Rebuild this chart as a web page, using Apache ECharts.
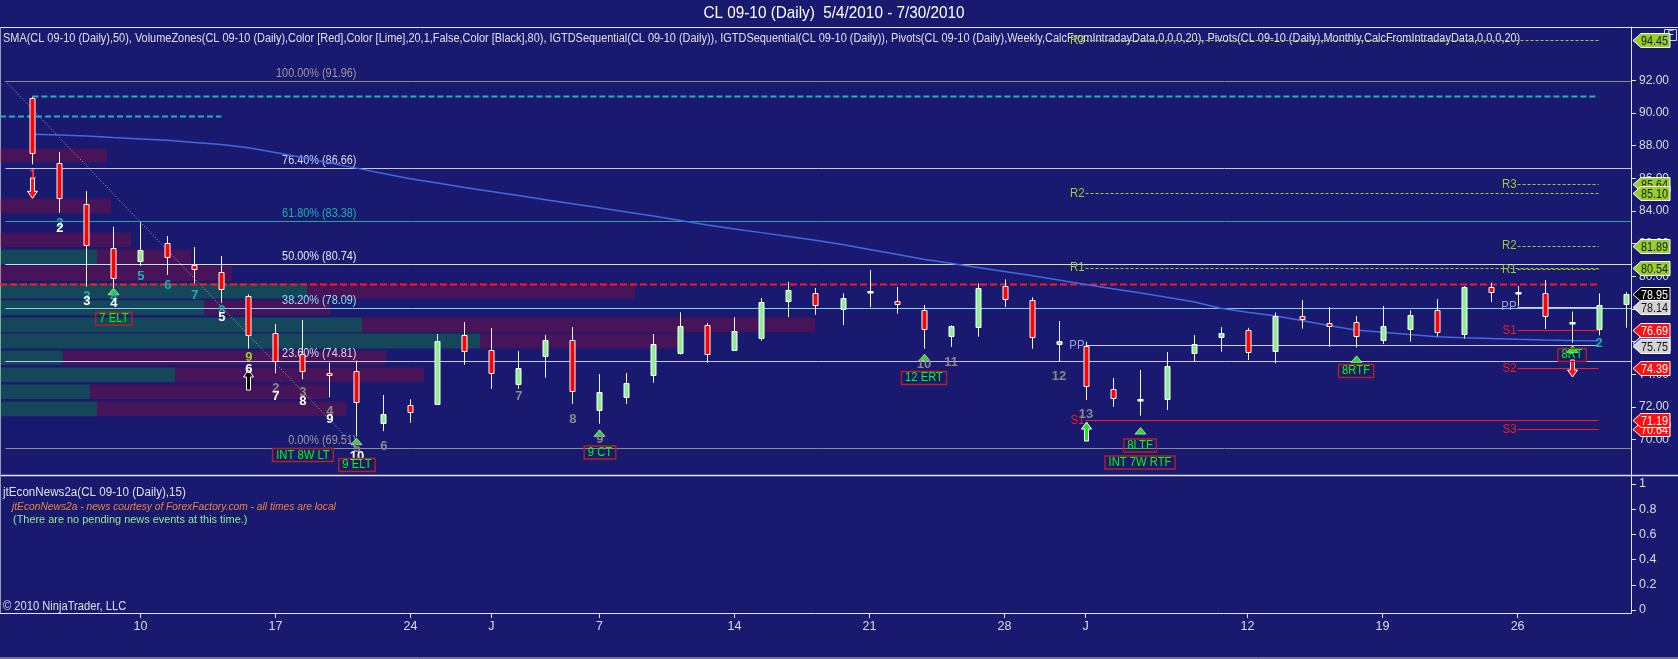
<!DOCTYPE html>
<html>
<head>
<meta charset="utf-8">
<title>CL 09-10 (Daily)</title>
<script src="https://cdn.jsdelivr.net/npm/echarts@6/dist/echarts.min.js"></script>
<style>
html,body{margin:0;padding:0;background:#191970;}
#main{width:1678px;height:659px;}
</style>
</head>
<body>
<div id="main"></div>
<script>
// ---- data ----
var dates = ['5/4','5/5','5/6','5/7','5/10','5/11','5/12','5/13','5/14','5/17','5/18','5/19','5/20','5/21','5/24','5/25','5/26',
  '6/1','6/2','6/3','6/4','6/7','6/8','6/9','6/10','6/11','6/14','6/15','6/16','6/17','6/18','6/21','6/22','6/23','6/24','6/25',
  '6/28','6/29','6/30','7/1','7/2','7/6','7/7','7/8','7/9','7/12','7/13','7/14','7/15','7/16','7/19','7/20','7/21','7/22','7/23',
  '7/26','7/27','7/28','7/29','7/30'];
var openP  = [90.91,86.93,84.43,81.72,80.92,82.05,80.70,80.27,78.80,76.55,75.25,74.07,74.23,71.00,72.11,72.20,76.39,75.47,73.43,75.14,
  76.09,71.84,72.63,73.98,75.31,77.00,75.52,76.25,78.51,78.98,78.02,79.04,78.47,77.92,76.37,76.92,79.39,78.54,75.84,75.76,
  73.09,72.45,72.47,75.29,76.27,76.69,75.45,77.56,77.17,77.23,76.11,76.78,77.92,76.45,79.35,79.00,78.96,77.14,76.77,78.29];
var highP  = [91.00,87.62,85.23,83.04,83.31,82.47,81.80,81.25,78.90,77.08,77.33,74.72,74.84,72.74,72.47,76.47,77.20,76.84,75.43,76.41,
  76.90,74.02,74.08,76.47,77.80,77.15,77.51,78.68,79.66,79.29,78.96,80.39,79.35,78.25,77.00,79.58,79.82,78.72,77.27,76.00,
  73.78,74.27,75.37,76.41,76.90,76.85,77.79,78.55,78.11,77.58,78.19,77.93,78.61,79.40,79.61,79.41,79.78,77.85,78.95,79.04];
var lowP   = [86.86,83.90,79.37,79.29,80.64,80.09,79.58,78.39,75.57,74.07,73.70,72.60,70.20,70.53,71.04,72.15,74.59,73.12,73.12,73.80,
  72.20,70.98,72.20,73.49,75.22,74.72,75.50,76.06,77.51,77.65,77.02,78.11,77.72,75.57,75.69,76.31,78.13,75.57,74.78,72.43,
  72.02,71.47,71.82,74.78,75.39,74.88,74.68,76.80,75.69,75.65,75.86,76.01,76.31,76.19,78.43,78.17,76.78,75.95,76.39,76.86];
var closeP = [87.54,84.78,81.90,79.88,81.60,81.17,80.43,79.21,76.39,74.84,74.19,73.94,72.31,71.55,71.68,76.03,75.45,74.07,74.37,76.09,
  73.00,72.90,73.45,75.84,76.94,75.27,76.64,78.43,79.15,78.27,78.66,79.04,78.29,76.76,76.94,79.27,78.63,76.31,76.03,73.31,
  72.54,72.45,74.51,75.84,76.53,75.35,77.56,77.42,76.97,76.37,76.95,77.63,76.61,79.37,79.02,79.00,77.55,77.14,78.27,78.95];
var sma50 = [88.70,88.65,88.60,88.50,88.42,88.33,88.20,88.07,87.88,87.58,87.28,86.95,86.63,86.30,85.98,85.72,85.45,85.20,84.95,84.70,
  84.45,84.20,83.95,83.70,83.42,83.15,82.90,82.68,82.45,82.22,81.95,81.65,81.35,81.05,80.80,80.55,80.30,80.05,79.78,79.50,
  79.25,79.00,78.72,78.45,78.05,77.80,77.59,77.30,77.00,76.72,76.58,76.44,76.31,76.25,76.20,76.15,76.11,76.08,76.06,null];

var tickIdx  = [4,9,14,17,21,26,31,36,39,45,50,55];
var tickText = ['10','17','24','J','7','14','21','28','J','12','19','26'];
var priceTicks = [70,72,74,76,78,80,82,84,86,88,90,92];
var newsTicks = [0,0.2,0.4,0.6,0.8,1];

// volume zones: price band and up / down volume (1 unit = one bar width)
var zoneLow  = [86.96,83.84,81.76,80.72,79.68,78.62,77.59,76.55,75.55,74.56,73.49,72.47,71.41];
var zoneHigh = [87.84,84.80,82.72,81.68,80.66,79.60,78.57,77.51,76.53,75.49,74.45,73.41,72.37];
var zoneUp   = [0,0,0,3.59,0,11.37,7.56,13.41,17.78,2.33,6.48,3.33,3.59];
var zoneDown = [3.96,4.11,4.85,3.48,8.59,12.15,4.67,16.78,7.33,11.96,9.22,8.81,9.22];

// fibonacci retracement
var fibPct   = ['100.00%','76.40%','61.80%','50.00%','38.20%','23.60%','0.00%'];
var fibPrice = [91.96,86.66,83.38,80.74,78.09,74.81,69.51];
var fibFrom  = [-1, 91.96];
var fibTo    = [12, 69.51];

// other horizontal levels: price, first bar, last bar
var levelPrice = [91.05, 89.81, 79.52];
var levelFrom  = [0, -1.2, -1.2];
var levelTo    = [58, 7, 58];

// pivots
var monthName  = ['R3','R2','R1','PP','S1'];
var monthPrice = [94.45,85.10,80.54,75.78,71.19];
var weekName   = ['R3','R2','R1','PP','S1','S2','S3'];
var weekPrice  = [85.64,81.89,80.45,78.14,76.69,74.39,70.64];
var monthStart = 39, weekStart = 55, pivotEnd = 58;

// TD sequential counts
var tdBar   = [0,1,1,2,2,3,3,4,5,6,7,7,8,8,9,9,10,10,11,11,12,12,13,18,20,21,33,34,38,39,58];
var tdPrice = [86.26,83.27,82.95,78.76,78.45,78.72,78.35,79.98,79.47,78.86,77.90,77.50,75.02,74.31,73.15,72.68,72.88,72.33,71.71,71.25,
  69.47,68.96,69.57,72.63,71.27,70.02,74.64,74.74,73.86,71.55,75.90];
var tdText  = ['1','2','2','3','3','4','4','5','6','7','8','5','9','6','2','7','3','8','4','9','5','10','6','7','8','9','10','11','12','13','2'];
var tdKind  = ['r','t','w','t','w','t','w','t','t','t','t','w','y','w','g','w','g','w','g','w','g','w','g','g','g','g','g','g','g','g','t'];

var boxBar   = [3,10,12,21,33,41,41,49,57];
var boxPrice = [77.41,69.06,68.45,69.22,73.78,69.64,68.60,74.21,75.19];
var boxText  = ['7 ELT','INT 8W LT','9 ELT','9 CT','12 ERT','8LTF','INT 7W RTF','8RTF','8RT'];

var triBar   = [3,12,21,33,41,49,57];
var triPrice = [79.06,69.88,70.39,75.02,70.53,74.92,75.53];

var arrBar  = [0,8,39,57];
var arrTop  = [86.01,74.27,71.08,74.88];
var arrBot  = [84.78,73.04,69.92,73.84];
var arrKind = ['downRed','upBlack','upGreen','downRed'];

// price tags on the right axis
var tagPrice = [94.45,85.64,85.10,81.89,80.54,78.95,78.14,75.93,76.69,75.75,74.39,70.64,71.19];
var tagKind  = ['yg','yg','yg','yg','yg','last','pp','sma','red','pp','red','red','red'];

// ---- drawing ----
var FONT = "'Liberation Sans',Arial,sans-serif";
var BOLD = "bold 13px 'Liberation Sans',Arial,sans-serif";
var xMin = -1.2, xMax = 59.2;

var tdColor = {r:'#ff3a3a', t:'#20b2aa', w:'#ffffff', g:'#8a8a8a', y:'#9acd32'};
var fibColor = ['#8c8c8c','#c8c8e6','#1fa5a5','#dcdcf0','#7fd4e6','#c8c8e6','#8c8c8c'];
var fibTextColor = ['#9a9a9a','#d8d8f0','#20b2aa','#e6e6f6','#8ee0ee','#d8d8f0','#9a9a9a'];
var levelStyle = [
  {stroke:'#1fb5b5', lineWidth:2, lineDash:[6,3]},
  {stroke:'#1fb5b5', lineWidth:2, lineDash:[6,3]},
  {stroke:'#ff1a1a', lineWidth:2, lineDash:[7,3]}
];
var tagStyle = {
  yg:{fill:'#9acd32', text:'#102000'}, last:{fill:'#000000', text:'#ffffff'}, pp:{fill:'#d3d3d3', text:'#101010'},
  red:{fill:'#ff1010', text:'#ffffff'}, sma:{fill:'#4169e1', text:'#ffffff'}
};
function pivotColor(name){ return name.charAt(0)==='R' ? '#9acd32' : (name==='PP' ? '#d0d0dc' : '#ff1a1a'); }
function pivotTextColor(name){ return name.charAt(0)==='R' ? '#9acd32' : (name==='PP' ? '#9aa4d0' : '#ff1a1a'); }

function px(v){ return Math.round(v) + 0.5; }

function layer(n, z, fn){
  var data = [];
  for (var k = 0; k < n; k++) data.push([k, 80]);
  return {type:'custom', xAxisIndex:0, yAxisIndex:0, data:data, z:z, silent:true, clip:false,
    renderItem:function(params, api){ return fn(params.dataIndex, api); }};
}

function hline(api, i0, i1, p, style){
  var a = api.coord([i0, p]), b = api.coord([i1, p]);
  var y = px(a[1]);
  return {type:'line', shape:{x1:a[0], y1:y, x2:b[0], y2:y}, style:style};
}

var zoneSeries = layer(zoneLow.length, 1, function(k, api){
  var yT = api.coord([0, zoneHigh[k]])[1] + 0.5, yB = api.coord([0, zoneLow[k]])[1] - 0.5;
  var x0 = api.coord([xMin, 80])[0];
  var x1 = api.coord([xMin + zoneUp[k], 80])[0];
  var x2 = api.coord([xMin + zoneUp[k] + zoneDown[k], 80])[0];
  return {type:'group', children:[
    {type:'rect', shape:{x:x0, y:yT, width:x1 - x0, height:yB - yT}, style:{fill:'rgba(0,255,0,0.2)'}},
    {type:'rect', shape:{x:x1, y:yT, width:x2 - x1, height:yB - yT}, style:{fill:'rgba(255,0,0,0.2)'}}
  ]};
});

var fibSeries = layer(fibPrice.length, 2, function(k, api){
  var lab = api.coord([12, fibPrice[k]]);
  return {type:'group', children:[
    hline(api, -1, xMax, fibPrice[k], {stroke:fibColor[k], lineWidth:1}),
    {type:'text', x:lab[0], y:lab[1] - 1, scaleX:0.87, style:{text:fibPct[k] + ' (' + fibPrice[k].toFixed(2) + ')',
      fill:fibTextColor[k], font:'12.5px ' + FONT, align:'right', verticalAlign:'bottom'}}
  ]};
});

var diagSeries = layer(1, 2, function(k, api){
  var a = api.coord(fibFrom), b = api.coord(fibTo);
  return {type:'line', shape:{x1:a[0], y1:a[1], x2:b[0], y2:b[1]}, style:{stroke:'#b8b8b8', lineWidth:1, lineDash:[1,2]}};
});

var levelSeries = layer(levelPrice.length, 3, function(k, api){
  return hline(api, levelFrom[k], levelTo[k], levelPrice[k], levelStyle[k]);
});

function pivotLayer(names, prices, start, dashedR){
  return layer(names.length, 3, function(k, api){
    var n = names[k];
    var dashed = dashedR && n.charAt(0) === 'R';
    var a = api.coord([start, prices[k]]);
    return {type:'group', children:[
      hline(api, start, pivotEnd, prices[k], {stroke:pivotColor(n), lineWidth:1, lineDash:dashed ? [3,2] : null}),
      {type:'text', x:a[0] - 1, y:a[1], scaleX:0.88, style:{text:n, fill:pivotTextColor(n), font:'13px ' + FONT, align:'right', verticalAlign:'middle'}}
    ]};
  });
}

var candleSeries = layer(openP.length, 5, function(k, api){
  var o = openP[k], h = highP[k], l = lowP[k], c = closeP[k];
  var x = px(api.coord([k, o])[0]);
  var yH = api.coord([k, h])[1], yL = api.coord([k, l])[1];
  var yO = api.coord([k, o])[1], yC = api.coord([k, c])[1];
  var top = Math.round(Math.min(yO, yC)) + 0.5, bot = Math.round(Math.max(yO, yC)) + 0.5;
  var kids = [{type:'line', shape:{x1:x, y1:yH, x2:x, y2:yL}, style:{stroke:'#f2f2f2', lineWidth:1}}];
  if (bot - top < 1) {
    kids.push({type:'rect', shape:{x:x - 3, y:top - 1.5, width:6, height:2.5}, style:{fill:'#ffffff'}});
  } else {
    kids.push({type:'rect', shape:{x:x - 2.5, y:top, width:5, height:bot - top},
      style:{fill:c > o ? '#90ee90' : '#ff0000', stroke:'#ffffff', lineWidth:1}});
  }
  return {type:'group', children:kids};
});

var smaSeries = {
  type:'line', xAxisIndex:0, yAxisIndex:0, z:4, silent:true, showSymbol:false,
  data: sma50.map(function(v, k){ return [k, v === null ? '-' : v]; }),
  lineStyle:{color:'#4169e1', width:1.5}
};

var triSeries = layer(triBar.length, 6, function(k, api){
  var p = api.coord([triBar[k], triPrice[k]]);
  var x = px(p[0]), y = p[1];
  return {type:'polygon', shape:{points:[[x - 5.5, y + 3], [x + 5.5, y + 3], [x, y - 3.5]]},
    style:{fill:'#22e022', stroke:'#d8d8d8', lineWidth:0.8}};
});

var arrowColor = {downRed:'#ff1010', upBlack:'#000000', upGreen:'#22e022'};
var arrowSeries = layer(arrBar.length, 6, function(k, api){
  var a = api.coord([arrBar[k], arrTop[k]]), b = api.coord([arrBar[k], arrBot[k]]);
  var x = px(a[0]), yT = a[1], yB = b[1], hh = 7;
  var pts = arrKind[k].indexOf('up') === 0 ?
    [[x, yT], [x + 5, yT + hh], [x + 2, yT + hh], [x + 2, yB], [x - 2, yB], [x - 2, yT + hh], [x - 5, yT + hh]] :
    [[x, yB], [x + 5, yB - hh], [x + 2, yB - hh], [x + 2, yT], [x - 2, yT], [x - 2, yB - hh], [x - 5, yB - hh]];
  return {type:'polygon', shape:{points:pts}, style:{fill:arrowColor[arrKind[k]], stroke:'#ffffff', lineWidth:1}};
});

var tdSeries = layer(tdBar.length, 7, function(k, api){
  var p = api.coord([tdBar[k], tdPrice[k]]);
  return {type:'text', x:p[0] + 0.5, y:p[1], style:{text:tdText[k], fill:tdColor[tdKind[k]], font:BOLD, align:'center', verticalAlign:'middle'}};
});

var boxSeries = layer(boxBar.length, 7, function(k, api){
  var p = api.coord([boxBar[k], boxPrice[k]]);
  return {type:'text', x:p[0] + 0.5, y:p[1], scaleX:0.9, style:{text:boxText[k], fill:'#00ff00', font:'12.5px ' + FONT, align:'center', verticalAlign:'middle',
    borderColor:'#b22222', borderWidth:1.5, padding:[0,4,0,4]}};
});

var tagSeries = layer(tagPrice.length, 8, function(k, api){
  var p = api.coord([xMax, tagPrice[k]]);
  var ax = p[0], y = Math.round(p[1]) + 0.5, st = tagStyle[tagKind[k]];
  return {type:'group', children:[
    {type:'polygon', shape:{points:[[ax + 2, y], [ax + 10, y - 7], [ax + 39, y - 7], [ax + 39, y + 7], [ax + 10, y + 7]]},
      style:{fill:st.fill, stroke:'#ffffff', lineWidth:1}},
    {type:'text', x:ax + 37, y:y + 0.5, scaleX:0.8, style:{text:tagPrice[k].toFixed(2), fill:st.text, font:'13.5px ' + FONT, align:'right', verticalAlign:'middle'}}
  ]};
});

var axisLineStyle = {color:'#e6e6f0', width:1};
var option = {
  backgroundColor:'#191970',
  animation:false,
  textStyle:{fontFamily:FONT},
  grid:[
    {left:0, right:47, top:27, height:448},
    {left:0, right:47, top:475, height:138}
  ],
  xAxis:[
    {gridIndex:0, type:'value', min:xMin, max:xMax, axisLine:{show:false}, axisTick:{show:false}, axisLabel:{show:false}, splitLine:{show:false}},
    {gridIndex:1, type:'value', min:xMin, max:xMax,
      axisLine:{show:true, onZero:false, lineStyle:axisLineStyle},
      axisTick:{show:true, customValues:tickIdx, length:5, lineStyle:axisLineStyle},
      axisLabel:{show:true, customValues:tickIdx, color:'#dcdcdc', fontSize:12.5, fontFamily:FONT, margin:7,
        formatter:function(v){ var k = tickIdx.indexOf(Math.round(v)); return k < 0 ? '' : tickText[k]; }},
      splitLine:{show:false}}
  ],
  yAxis:[
    {gridIndex:0, type:'value', position:'right', min:67.84, max:95.27,
      axisLine:{show:true, onZero:false, lineStyle:axisLineStyle},
      axisTick:{show:true, customValues:priceTicks, length:5, lineStyle:axisLineStyle},
      axisLabel:{show:true, customValues:priceTicks, color:'#dcdcdc', fontSize:12, fontFamily:FONT, margin:8,
        formatter:function(v){ return v.toFixed(2); }},
      splitLine:{show:false}},
    {gridIndex:1, type:'value', position:'right', min:-0.024, max:1.071,
      axisLine:{show:true, onZero:false, lineStyle:axisLineStyle},
      axisTick:{show:true, customValues:newsTicks, length:5, lineStyle:axisLineStyle},
      axisLabel:{show:true, customValues:newsTicks, color:'#dcdcdc', fontSize:12.5, fontFamily:FONT, margin:8,
        formatter:function(v){ return String(parseFloat(v.toFixed(1))); }},
      splitLine:{show:false}}
  ],
  graphic:[
    {type:'line', shape:{x1:0, y1:27.5, x2:1678, y2:27.5}, style:{stroke:'#e6e6f0', lineWidth:1}},
    {type:'line', shape:{x1:0, y1:475.5, x2:1678, y2:475.5}, style:{stroke:'#e6e6f0', lineWidth:1.5}},
    {type:'line', shape:{x1:0.5, y1:27, x2:0.5, y2:613}, style:{stroke:'#9a9ab0', lineWidth:1}},
    {type:'line', shape:{x1:0, y1:658, x2:1678, y2:658}, style:{stroke:'#c8c8d8', lineWidth:1}},
    {type:'text', x:834, y:13, scaleX:0.9, style:{text:'CL 09-10 (Daily)  5/4/2010 - 7/30/2010', fill:'#ffffff', font:'17px ' + FONT, align:'center', verticalAlign:'middle'}},
    {type:'text', x:3, y:39, scaleX:0.875, style:{text:'SMA(CL 09-10 (Daily),50), VolumeZones(CL 09-10 (Daily),Color [Red],Color [Lime],20,1,False,Color [Black],80), IGTDSequential(CL 09-10 (Daily)), IGTDSequential(CL 09-10 (Daily)), Pivots(CL 09-10 (Daily),Weekly,CalcFromIntradayData,0,0,0,20), Pivots(CL 09-10 (Daily),Monthly,CalcFromIntradayData,0,0,0,20)',
      fill:'#e0e0e8', font:'12.5px ' + FONT, verticalAlign:'middle'}},
    {type:'rect', shape:{x:1664.5, y:29.5, width:12, height:11}, style:{fill:'none', stroke:'#d0d0e0', lineWidth:1}},
    {type:'text', x:1670.5, y:35, style:{text:'F', fill:'#e0e0e8', font:'10px ' + FONT, align:'center', verticalAlign:'middle'}},
    {type:'text', x:3, y:493, scaleX:0.93, style:{text:'jtEconNews2a(CL 09-10 (Daily),15)', fill:'#e0e0e8', font:'12.5px ' + FONT, verticalAlign:'middle'}},
    {type:'text', x:12, y:507, scaleX:0.93, style:{text:'jtEconNews2a - news courtesy of ForexFactory.com - all times are local', fill:'#e8843c', font:'italic 11px ' + FONT, verticalAlign:'middle'}},
    {type:'text', x:13, y:520, scaleX:0.95, style:{text:'(There are no pending news events at this time.)', fill:'#90ee90', font:'11.5px ' + FONT, verticalAlign:'middle'}},
    {type:'text', x:3, y:607, scaleX:0.93, style:{text:'\u00a9 2010 NinjaTrader, LLC', fill:'#e0e0e8', font:'12px ' + FONT, verticalAlign:'middle'}}
  ],
  series:[
    zoneSeries, fibSeries, diagSeries, levelSeries,
    pivotLayer(monthName, monthPrice, monthStart, true),
    pivotLayer(weekName, weekPrice, weekStart, true),
    smaSeries, candleSeries, triSeries, arrowSeries, tdSeries, boxSeries, tagSeries
  ]
};

var myChart = echarts.init(document.getElementById('main'));
myChart.setOption(option);
</script>
</body>
</html>
